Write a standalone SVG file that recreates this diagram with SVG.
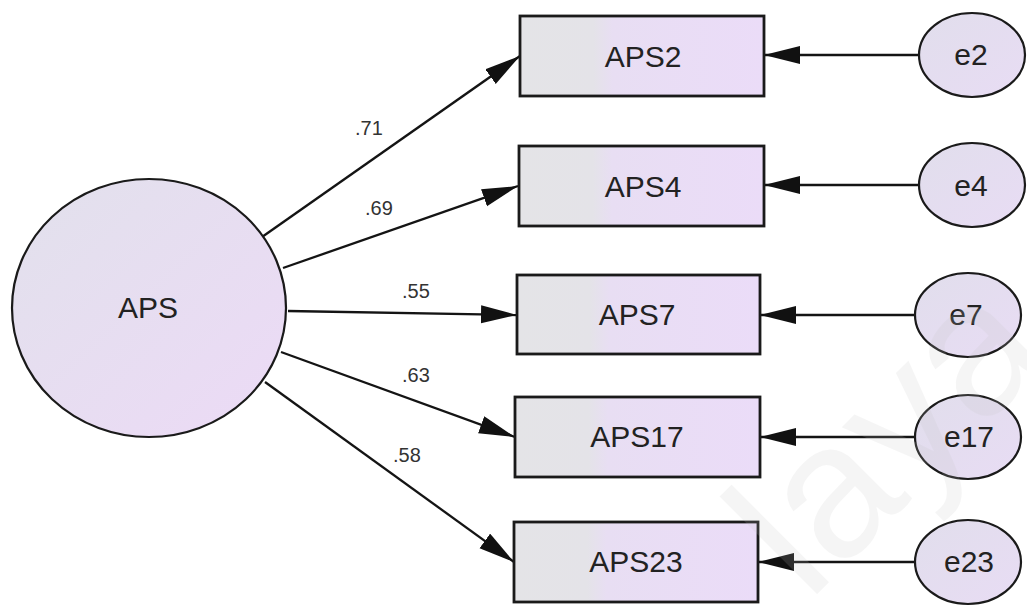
<svg xmlns="http://www.w3.org/2000/svg" width="1027" height="608" viewBox="0 0 1027 608">
  <style>
    .obs { stroke: #1a1a1a; stroke-width: 2.8; fill: url(#obsFill); }
    .lat { stroke: #1a1a1a; stroke-width: 2.2; fill: url(#latFill); }
    .err { stroke: #1a1a1a; stroke-width: 2.2; fill: url(#errFill); }
    .lbl { font-family: "Liberation Sans", Arial, sans-serif; font-size: 30px; fill: #222; text-anchor: middle; }
    .coef { font-family: "Liberation Sans", Arial, sans-serif; font-size: 20px; fill: #333; }
    .path { stroke: #141414; stroke-width: 2.3; fill: none; marker-end: url(#head); }
    .mark { font-family: "Liberation Sans", Arial, sans-serif; font-size: 190px; fill: #c4c4c4; opacity: 0.16; }
  </style>
  <defs>
    <linearGradient id="obsFill" x1="0" y1="0" x2="1" y2="0">
      <stop offset="0" stop-color="#e4e4e7"/>
      <stop offset="0.3" stop-color="#e4e3e8"/>
      <stop offset="0.38" stop-color="#e8def3"/>
      <stop offset="1" stop-color="#ebdcf8"/>
    </linearGradient>
    <linearGradient id="latFill" x1="0" y1="0" x2="1" y2="1">
      <stop offset="0" stop-color="#e2e1ec"/>
      <stop offset="1" stop-color="#ecdaf6"/>
    </linearGradient>
    <linearGradient id="errFill" x1="0" y1="0" x2="1" y2="1">
      <stop offset="0" stop-color="#e1deec"/>
      <stop offset="1" stop-color="#e8dcf4"/>
    </linearGradient>
    <marker id="head" markerUnits="userSpaceOnUse" markerWidth="38" markerHeight="20" refX="36" refY="9" orient="auto">
      <path d="M0,0 L36,9 L0,18 Z" fill="#111"/>
    </marker>
  </defs>

  <rect width="1027" height="608" fill="#ffffff"/>

  <!-- connectors: factor loadings and error terms -->
  <g id="connectors">
    <line class="path" x1="262" y1="237" x2="520" y2="56"/>
    <line class="path" x1="283" y1="268" x2="518" y2="186"/>
    <line class="path" x1="288" y1="311" x2="517" y2="315"/>
    <line class="path" x1="281" y1="352" x2="515" y2="437"/>
    <line class="path" x1="265" y1="382" x2="514" y2="562"/>

    <line class="path" x1="920" y1="55" x2="764" y2="55"/>
    <line class="path" x1="920" y1="185" x2="764" y2="185"/>
    <line class="path" x1="915" y1="315" x2="760" y2="315"/>
    <line class="path" x1="915" y1="437" x2="760" y2="437"/>
    <line class="path" x1="915" y1="562" x2="758" y2="562"/>

    <text class="coef" x="355" y="135">.71</text>
    <text class="coef" x="365" y="215">.69</text>
    <text class="coef" x="402" y="298">.55</text>
    <text class="coef" x="402" y="382">.63</text>
    <text class="coef" x="393" y="462">.58</text>
  </g>

  <g id="APS">
    <ellipse class="lat" cx="149" cy="308" rx="137" ry="129"/>
    <text class="lbl" x="148" y="318">APS</text>
  </g>

  <g id="APS2">
    <rect class="obs" x="520" y="16" width="244" height="80"/>
    <text class="lbl" x="643" y="67">APS2</text>
  </g>
  <g id="APS4">
    <rect class="obs" x="519" y="146" width="245" height="80"/>
    <text class="lbl" x="643" y="197">APS4</text>
  </g>
  <g id="APS7">
    <rect class="obs" x="517" y="275" width="243" height="79"/>
    <text class="lbl" x="637" y="325">APS7</text>
  </g>
  <g id="APS17">
    <rect class="obs" x="515" y="397" width="245" height="80"/>
    <text class="lbl" x="637" y="447">APS17</text>
  </g>
  <g id="APS23">
    <rect class="obs" x="514" y="522" width="244" height="80"/>
    <text class="lbl" x="636" y="572">APS23</text>
  </g>

  <g id="e2">
    <ellipse class="err" cx="972" cy="55" rx="53" ry="42"/>
    <text class="lbl" x="971" y="65">e2</text>
  </g>
  <g id="e4">
    <ellipse class="err" cx="972" cy="185" rx="53" ry="42"/>
    <text class="lbl" x="971" y="196">e4</text>
  </g>
  <g id="e7">
    <ellipse class="err" cx="968" cy="315" rx="53" ry="42"/>
    <text class="lbl" x="966" y="325">e7</text>
  </g>
  <g id="e17">
    <ellipse class="err" cx="968" cy="437" rx="53" ry="42"/>
    <text class="lbl" x="969" y="447">e17</text>
  </g>
  <g id="e23">
    <ellipse class="err" cx="968" cy="562" rx="53" ry="42"/>
    <text class="lbl" x="969" y="572">e23</text>
  </g>

  <!-- faint diagonal watermark -->
  <text class="mark" transform="translate(808,603) rotate(-45)">laya</text>
</svg>
